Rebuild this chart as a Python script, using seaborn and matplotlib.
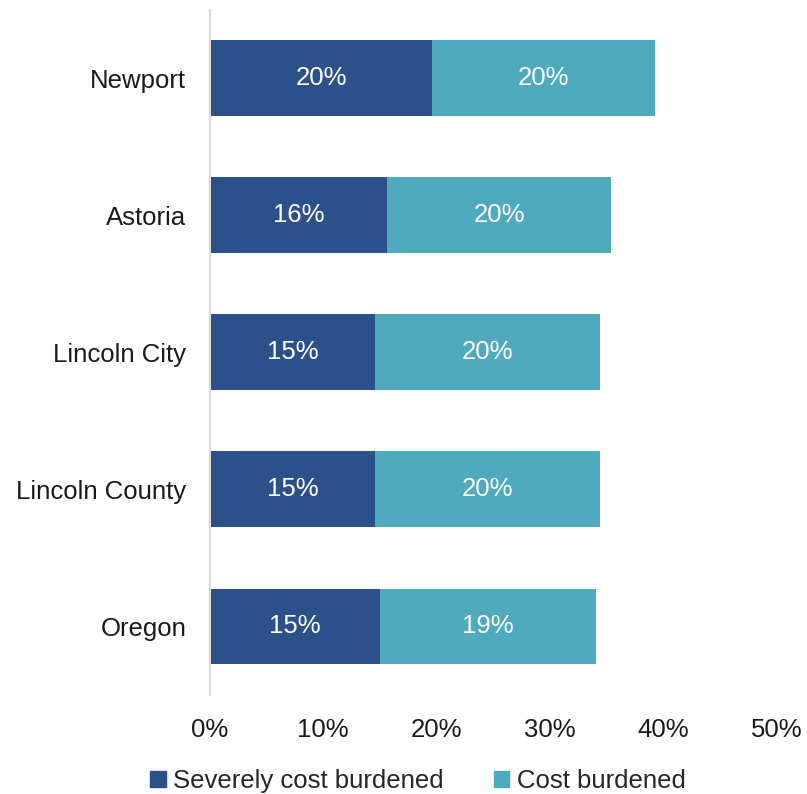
import matplotlib
matplotlib.use("Agg")
import matplotlib.pyplot as plt
import seaborn as sns
import pandas as pd
from matplotlib.patches import Patch

places = ["Newport", "Astoria", "Lincoln City", "Lincoln County", "Oregon"]
severely_burdened = [19.6, 15.6, 14.6, 14.6, 15.0]
cost_burdened = [19.6, 19.8, 19.8, 19.8, 19.0]
x_ticks = [0, 10, 20, 30, 40, 50]

dark_blue = "#2C5089"
teal = "#4FAABE"
fs = 18.5

df = pd.DataFrame({
    "place": places,
    "severe": severely_burdened,
    "cost": cost_burdened,
})
df["total"] = df["severe"] + df["cost"]

sns.set_theme(style="white")
plt.rcParams["font.family"] = ["Liberation Sans", "DejaVu Sans"]

fig = plt.figure(figsize=(8.07, 7.94), dpi=100)
ax = fig.add_axes([0.260, 0.125, 0.703, 0.863])

# stacked bars: full length in teal, severe portion drawn over it
sns.barplot(data=df, x="total", y="place", order=places, color=teal,
            width=0.55, saturation=1, linewidth=0, ax=ax)
sns.barplot(data=df, x="severe", y="place", order=places, color=dark_blue,
            width=0.55, saturation=1, linewidth=0, ax=ax)

for i, row in df.iterrows():
    ax.text(row["severe"] / 2, i, f"{row['severe']:.0f}%", ha="center",
            va="center", color="white", fontsize=fs)
    ax.text(row["severe"] + row["cost"] / 2, i, f"{row['cost']:.0f}%",
            ha="center", va="center", color="white", fontsize=fs)

ax.set_xlim(0, 50)
ax.set_ylim(4.5, -0.5)
ax.set_xticks(x_ticks)
ax.set_xticklabels([f"{t}%" for t in x_ticks], fontsize=fs, color="#1a1a1a")
ax.tick_params(axis="y", labelsize=fs, labelcolor="#1a1a1a", length=0, pad=17)
ax.tick_params(axis="x", length=0, pad=17)
ax.set_xlabel("")
ax.set_ylabel("")
for side in ["top", "right", "bottom"]:
    ax.spines[side].set_visible(False)
ax.spines["left"].set_color("#D9D9D9")
ax.spines["left"].set_linewidth(1.5)

handles = [Patch(color=dark_blue, label="Severely cost burdened"),
           Patch(color=teal, label="Cost burdened")]
fig.legend(handles=handles, loc="center", bbox_to_anchor=(0.518, 0.016),
           ncol=2, frameon=False, fontsize=fs, handlelength=0.6,
           handleheight=0.6, handletextpad=0.3, columnspacing=1.95)

fig.savefig("out.png", dpi=100)
